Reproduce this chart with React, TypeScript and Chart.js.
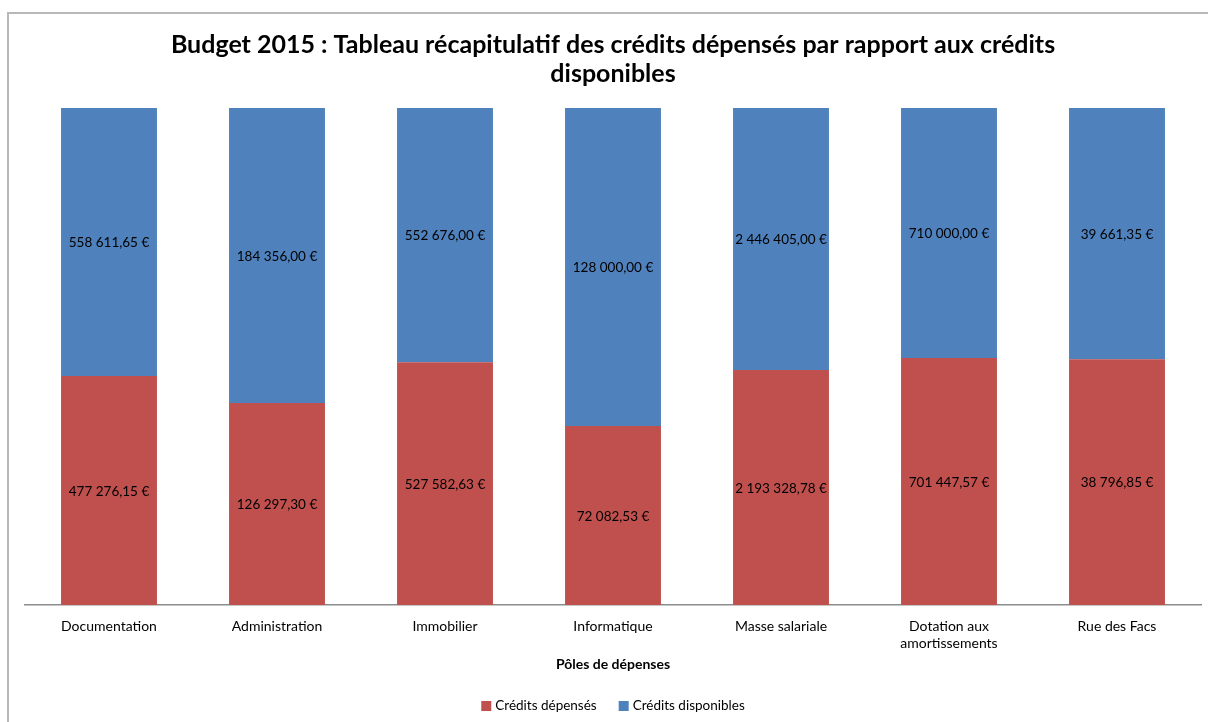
import React, { useEffect, useRef } from "react";
import { Chart, registerables } from "chart.js";

Chart.register(...registerables);

const categories: string[][] = [
  ["Documentation"],
  ["Administration"],
  ["Immobilier"],
  ["Informatique"],
  ["Masse salariale"],
  ["Dotation aux", "amortissements"],
  ["Rue des Facs"],
];
const creditsDepenses = [477276.15, 126297.3, 527582.63, 72082.53, 2193328.78, 701447.57, 38796.85];
const creditsDisponibles = [558611.65, 184356.0, 552676.0, 128000.0, 2446405.0, 710000.0, 39661.35];
const seriesNames = ["Crédits dépensés", "Crédits disponibles"];
const titleLines = [
  "Budget 2015 : Tableau récapitulatif des crédits dépensés par rapport aux crédits",
  "disponibles",
];
const axisTitle = "Pôles de dépenses";

const RED = "#C0504D";
const BLUE = "#4F81BD";
const FONT = "Lato, 'Open Sans', sans-serif";

function formatEuro(v: number): string {
  const fixed = v.toFixed(2);
  const [intPart, dec] = fixed.split(".");
  const withSpaces = intPart.replace(/\B(?=(\d{3})+(?!\d))/g, " ");
  return `${withSpaces},${dec} €`;
}

const totals = creditsDepenses.map((v, i) => v + creditsDisponibles[i]);
const pctDepenses = creditsDepenses.map((v, i) => (v / totals[i]) * 100);
const pctDisponibles = creditsDisponibles.map((v, i) => (v / totals[i]) * 100);
const rawValues = [creditsDepenses, creditsDisponibles];

const decorPlugin = {
  id: "decor",
  beforeDraw(chart: any) {
    const ctx = chart.ctx;
    ctx.save();
    ctx.fillStyle = "#ffffff";
    ctx.fillRect(0, 0, chart.width, chart.height);
    ctx.strokeStyle = "#b8b8b8";
    ctx.lineWidth = 2;
    ctx.strokeRect(8, 13, 1400, 900);
    ctx.restore();
  },
  afterDatasetsDraw(chart: any) {
    const ctx = chart.ctx;
    ctx.save();
    ctx.font = `13.5px ${FONT}`;
    ctx.fillStyle = "#000";
    ctx.textAlign = "center";
    ctx.textBaseline = "middle";
    chart.data.datasets.forEach((ds: any, di: number) => {
      const meta = chart.getDatasetMeta(di);
      meta.data.forEach((el: any, i: number) => {
        const cy = (el.y + el.base) / 2;
        ctx.fillText(formatEuro(rawValues[di][i]), el.x, cy + 1);
      });
    });
    ctx.restore();
  },
  afterDraw(chart: any) {
    const ctx = chart.ctx;
    const area = chart.chartArea;
    const cx = (area.left + area.right) / 2;
    ctx.save();
    ctx.fillStyle = "#000";
    ctx.textAlign = "center";
    ctx.textBaseline = "middle";
    ctx.font = `bold 25px ${FONT}`;
    ctx.fillText(titleLines[0], cx, 45);
    ctx.fillText(titleLines[1], cx, 74);
    ctx.font = `bold 14px ${FONT}`;
    ctx.fillText(axisTitle, cx, 664);
    // legend
    ctx.font = `13.5px ${FONT}`;
    const box = 10;
    const gap = 4;
    const spacing = 22;
    const widths = seriesNames.map((n) => ctx.measureText(n).width);
    const total = widths.reduce((a, w) => a + box + gap + w, 0) + spacing;
    let x = cx - total / 2;
    const y = 706;
    ctx.textAlign = "left";
    seriesNames.forEach((n, i) => {
      ctx.fillStyle = i === 0 ? RED : BLUE;
      ctx.fillRect(x, y - box / 2, box, box);
      ctx.fillStyle = "#000";
      ctx.fillText(n, x + box + gap, y);
      x += box + gap + widths[i] + spacing;
    });
    ctx.restore();
  },
};

export default function App() {
  const ref = useRef<HTMLCanvasElement | null>(null);
  useEffect(() => {
    if (!ref.current) return;
    const chart = new Chart(ref.current, {
      type: "bar",
      data: {
        labels: categories,
        datasets: [
          { label: seriesNames[0], data: pctDepenses, backgroundColor: RED },
          { label: seriesNames[1], data: pctDisponibles, backgroundColor: BLUE },
        ],
      },
      options: {
        animation: false,
        responsive: false,
        layout: { padding: { top: 108, left: 25, right: 7, bottom: 0 } },
        plugins: {
          legend: { display: false },
          title: { display: false },
          tooltip: { enabled: false },
        },
        datasets: {
          bar: { categoryPercentage: 1, barPercentage: 0.571 },
        },
        scales: {
          x: {
            stacked: true,
            grid: { display: false, drawTicks: false },
            border: { display: true, color: "#8c8c8c", width: 1.5 },
            ticks: {
              color: "#000",
              font: { family: FONT, size: 14 },
              padding: 13,
              maxRotation: 0,
              autoSkip: false,
            },
            afterFit(scale: any) {
              scale.height = 117;
            },
          },
          y: {
            stacked: true,
            display: false,
            min: 0,
            max: 100,
          },
        },
      },
      plugins: [decorPlugin],
    });
    return () => chart.destroy();
  }, []);
  return (
    <div style={{ position: "absolute", left: 0, top: 0, width: 1208, height: 722 }}>
      <canvas ref={ref} width={1208} height={722} style={{ display: "block" }} />
    </div>
  );
}
